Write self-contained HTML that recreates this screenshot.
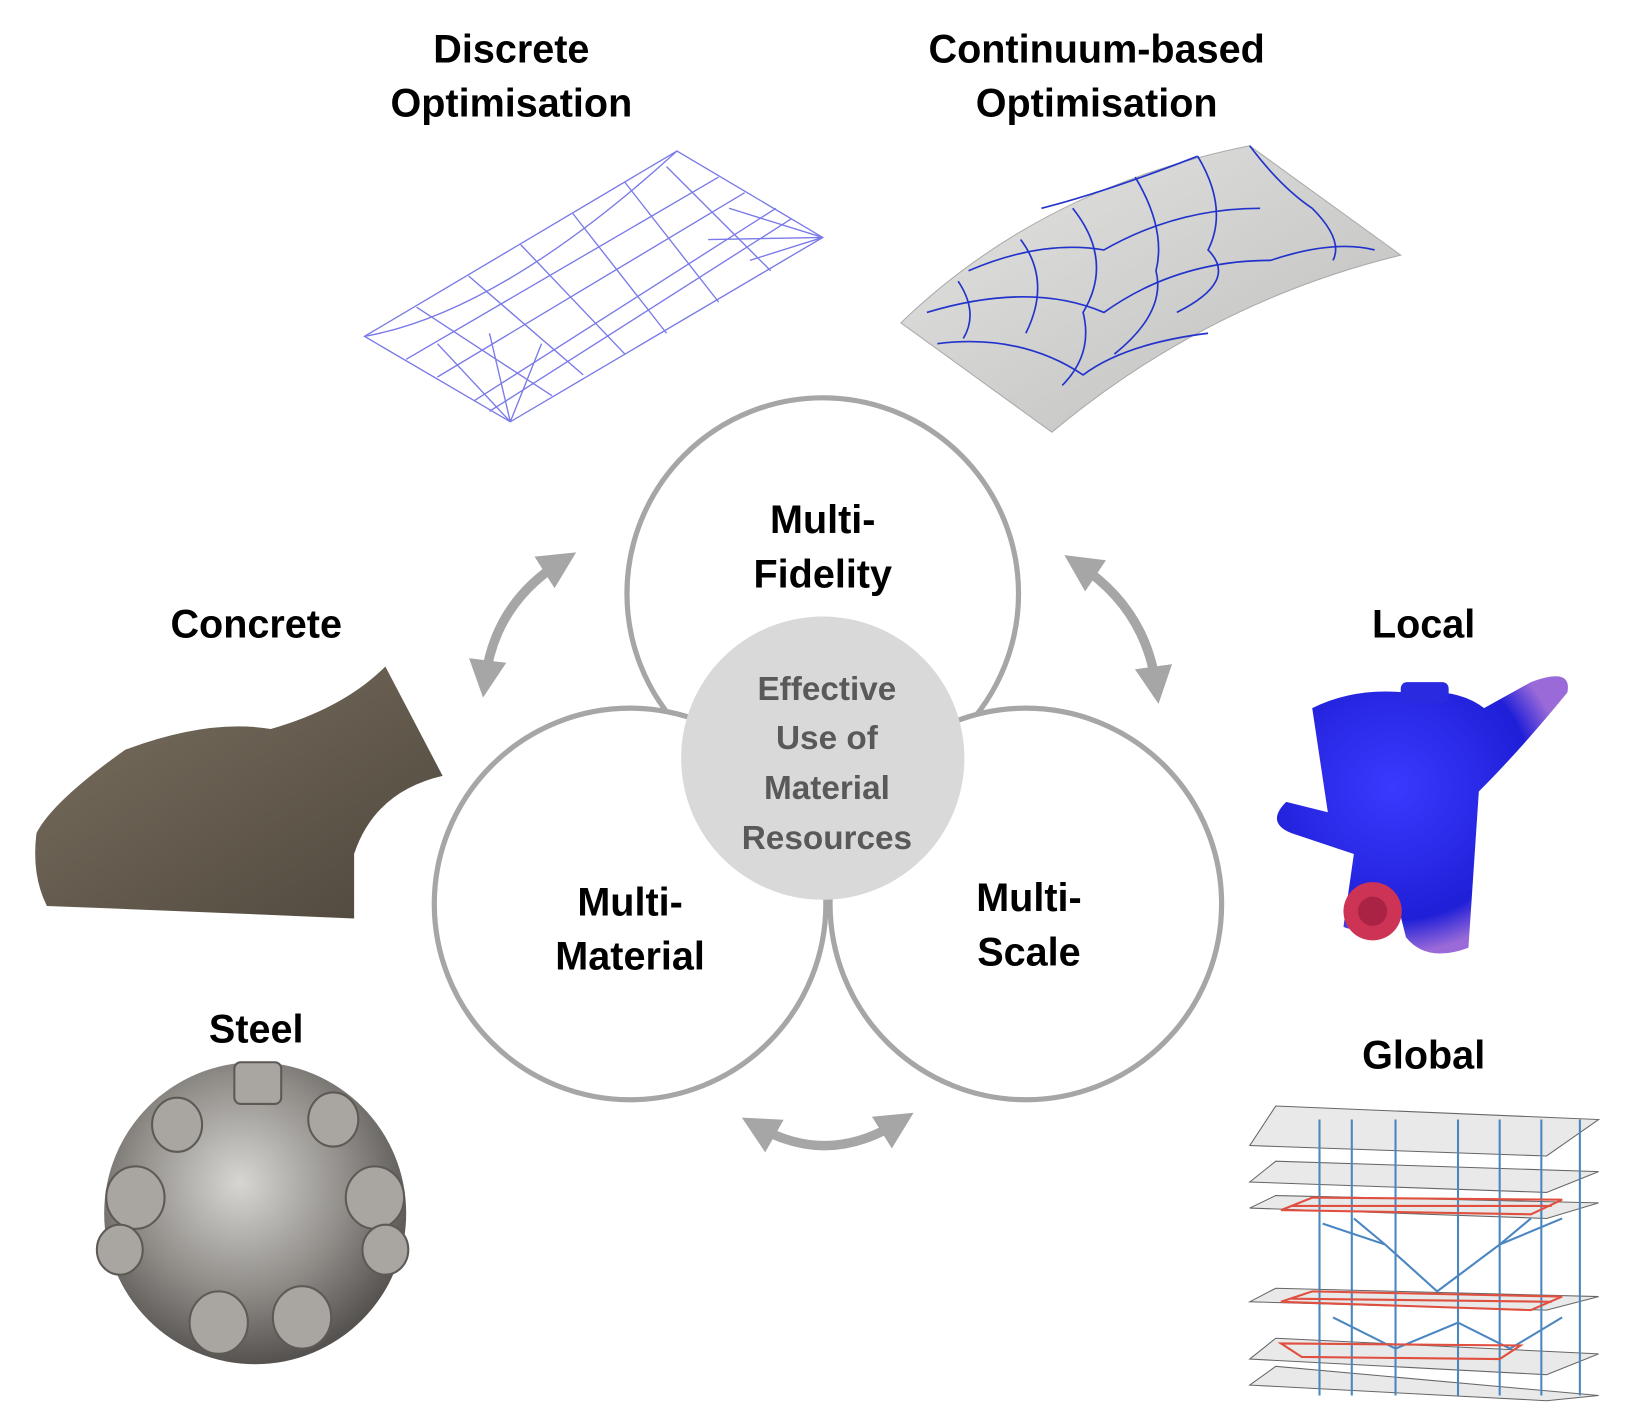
<!DOCTYPE html>
<html><head><meta charset="utf-8"><style>
html,body{margin:0;padding:0;background:#fff;}
svg{display:block;}
text{font-family:"Liberation Sans",sans-serif;font-weight:bold;}
</style></head><body>
<svg width="1633" height="1408" viewBox="0 0 1568 1352" xmlns="http://www.w3.org/2000/svg">
<defs>
<radialGradient id="steel" cx="45%" cy="40%" r="60%"><stop offset="0" stop-color="#d8d6d2"/><stop offset="0.6" stop-color="#8f8c88"/><stop offset="1" stop-color="#55524f"/></radialGradient>
<linearGradient id="conc" x1="0" y1="0" x2="1" y2="1"><stop offset="0" stop-color="#7a7060"/><stop offset="1" stop-color="#4f473d"/></linearGradient>
<linearGradient id="shell" x1="0" y1="0" x2="1" y2="1"><stop offset="0" stop-color="#e4e4e2"/><stop offset="1" stop-color="#bdbdbb"/></linearGradient>
<radialGradient id="blue" cx="40%" cy="40%" r="60%"><stop offset="0" stop-color="#3a3aff"/><stop offset="0.8" stop-color="#1f1fd8"/><stop offset="1" stop-color="#9a6ad8"/></radialGradient>
<marker id="ah" viewBox="0 0 10 10" refX="5" refY="5" markerWidth="4" markerHeight="4" orient="auto-start-reverse"><path d="M0,0 L10,5 L0,10 z" fill="#a6a6a6"/></marker>
</defs>

<g font-size="38" text-anchor="middle" fill="#000">
<text x="491" y="60">Discrete</text>
<text x="491" y="112">Optimisation</text>
<text x="1053" y="60">Continuum-based</text>
<text x="1053" y="112">Optimisation</text>
<text x="246" y="612">Concrete</text>
<text x="246" y="1001">Steel</text>
<text x="1367" y="612">Local</text>
<text x="1367" y="1026">Global</text>
</g>

<g stroke="#7a7ae8" stroke-width="1.3" fill="none">
<path d="M350,323 L650,145 L790,228 L490,405 Z"/>
<path d="M350,323 Q480,300 650,145"/>
<path d="M390,345 L690,170 M420,362 L715,185 M455,385 L745,200 M470,395 L760,210"/>
<path d="M400,295 L530,380 M450,265 L560,360 M500,235 L600,340 M550,205 L640,320 M600,175 L690,290 M640,160 L740,260"/>
<path d="M490,405 L420,330 M490,405 L470,320 M490,405 L520,330 M790,228 L700,200 M790,228 L680,230 M790,228 L720,250"/>
</g>

<path d="M865,310 Q1000,180 1200,140 L1345,245 Q1160,290 1010,415 Z" fill="url(#shell)" stroke="#aaa" stroke-width="1"/>
<g stroke="#2233cc" stroke-width="1.6" fill="none">
<path d="M920,270 Q940,300 925,325 M980,230 Q1010,270 985,320 M1030,200 Q1070,250 1040,300 Q1050,340 1020,370 M1090,170 Q1120,220 1110,260 Q1120,300 1070,340 M1150,150 Q1180,200 1160,240 Q1190,270 1130,300 M1200,140 Q1230,180 1260,200 Q1290,230 1280,250"/>
<path d="M890,300 Q990,270 1060,300 Q1130,250 1220,250 Q1280,230 1320,240 M930,260 Q1000,230 1060,240 Q1130,200 1210,200 M1000,200 Q1060,185 1150,150 M900,330 Q980,320 1040,360 Q1080,330 1160,320"/>
</g>

<path d="M35,800 Q50,770 120,720 Q200,690 260,700 Q330,680 370,640 L425,745 Q360,760 340,820 L340,882 Q180,875 45,870 Q30,840 35,800 Z" fill="url(#conc)"/>

<circle cx="245" cy="1165" r="145" fill="url(#steel)"/>
<g fill="#a9a6a1" stroke="#5d5a56" stroke-width="2">
<rect x="225" y="1020" width="45" height="40" rx="6"/>
<ellipse cx="130" cy="1150" rx="28" ry="30"/><ellipse cx="360" cy="1150" rx="28" ry="30"/>
<ellipse cx="115" cy="1200" rx="22" ry="24"/><ellipse cx="370" cy="1200" rx="22" ry="24"/>
<ellipse cx="170" cy="1080" rx="24" ry="26"/><ellipse cx="320" cy="1075" rx="24" ry="26"/>
<ellipse cx="210" cy="1270" rx="28" ry="30"/><ellipse cx="290" cy="1265" rx="28" ry="30"/>
</g>

<path d="M1260,680 Q1300,660 1350,665 Q1400,660 1425,680 L1470,655 Q1510,640 1505,665 Q1460,720 1420,760 L1410,910 Q1370,925 1350,900 L1340,860 Q1310,900 1290,890 L1300,820 L1240,800 Q1215,790 1235,770 L1275,780 Z" fill="url(#blue)"/>
<rect x="1345" y="655" width="46" height="20" rx="6" fill="#2a2ae0"/>
<circle cx="1318" cy="875" r="28" fill="#cc3355"/><circle cx="1318" cy="875" r="14" fill="#aa2244"/>

<g stroke="#666" stroke-width="1" fill="#e4e4e4" fill-opacity="0.8">
<path d="M1200,1100 L1225,1062 L1535,1075 L1485,1110 Z"/>
<path d="M1200,1135 L1225,1115 L1535,1125 L1485,1145 Z"/>
<path d="M1200,1160 L1225,1148 L1535,1155 L1485,1170 Z"/>
<path d="M1200,1250 L1225,1237 L1535,1245 L1485,1258 Z"/>
<path d="M1200,1305 L1225,1285 L1535,1300 L1485,1320 Z"/>
<path d="M1200,1330 L1225,1312 L1535,1340 L1485,1345 Z"/>
</g>
<g stroke="#4a86c0" stroke-width="2" fill="none">
<path d="M1267,1075 V1340 M1298,1075 V1340 M1340,1075 V1340 M1400,1075 V1340 M1440,1075 V1340 M1480,1075 V1340 M1517,1075 V1340"/>
<path d="M1270,1175 L1330,1195 L1380,1240 L1440,1195 L1500,1170 M1330,1195 L1300,1170 M1440,1195 L1470,1170"/>
<path d="M1280,1265 L1340,1295 L1400,1270 L1450,1295 L1500,1265"/>
</g>
<g stroke="#e05040" stroke-width="2" fill="none">
<path d="M1230,1162 L1260,1150 L1500,1152 L1470,1166 Z M1240,1158 L1490,1158"/>
<path d="M1230,1250 L1260,1240 L1500,1245 L1470,1258 Z M1240,1247 L1490,1250"/>
<path d="M1230,1290 L1460,1292 L1440,1305 L1250,1303 Z"/>
</g>

<g stroke="#a6a6a6" stroke-width="9" fill="none" stroke-linecap="butt">
<path d="M466,652 Q475,580 538,540" marker-start="url(#ah)" marker-end="url(#ah)"/>
<path d="M1037,543 Q1100,585 1110,658" marker-start="url(#ah)" marker-end="url(#ah)"/>
<path d="M728,1082 Q795,1120 862,1078" marker-start="url(#ah)" marker-end="url(#ah)"/>
</g>

<g stroke="#a6a6a6" stroke-width="5" fill="#fff">
<circle cx="790" cy="570" r="188"/>
<circle cx="605" cy="868" r="188"/>
<circle cx="985" cy="868" r="188"/>
</g>
<circle cx="790" cy="728" r="136" fill="#d9d9d9"/>

<g font-size="38" text-anchor="middle" fill="#000">
<text x="790" y="512">Multi-</text>
<text x="790" y="564">Fidelity</text>
<text x="605" y="879">Multi-</text>
<text x="605" y="931">Material</text>
<text x="988" y="875">Multi-</text>
<text x="988" y="927">Scale</text>
</g>
<g font-size="32" text-anchor="middle" fill="#595959">
<text x="794" y="672">Effective</text>
<text x="794" y="719">Use of</text>
<text x="794" y="767">Material</text>
<text x="794" y="815">Resources</text>
</g>
</svg>
</body></html>
